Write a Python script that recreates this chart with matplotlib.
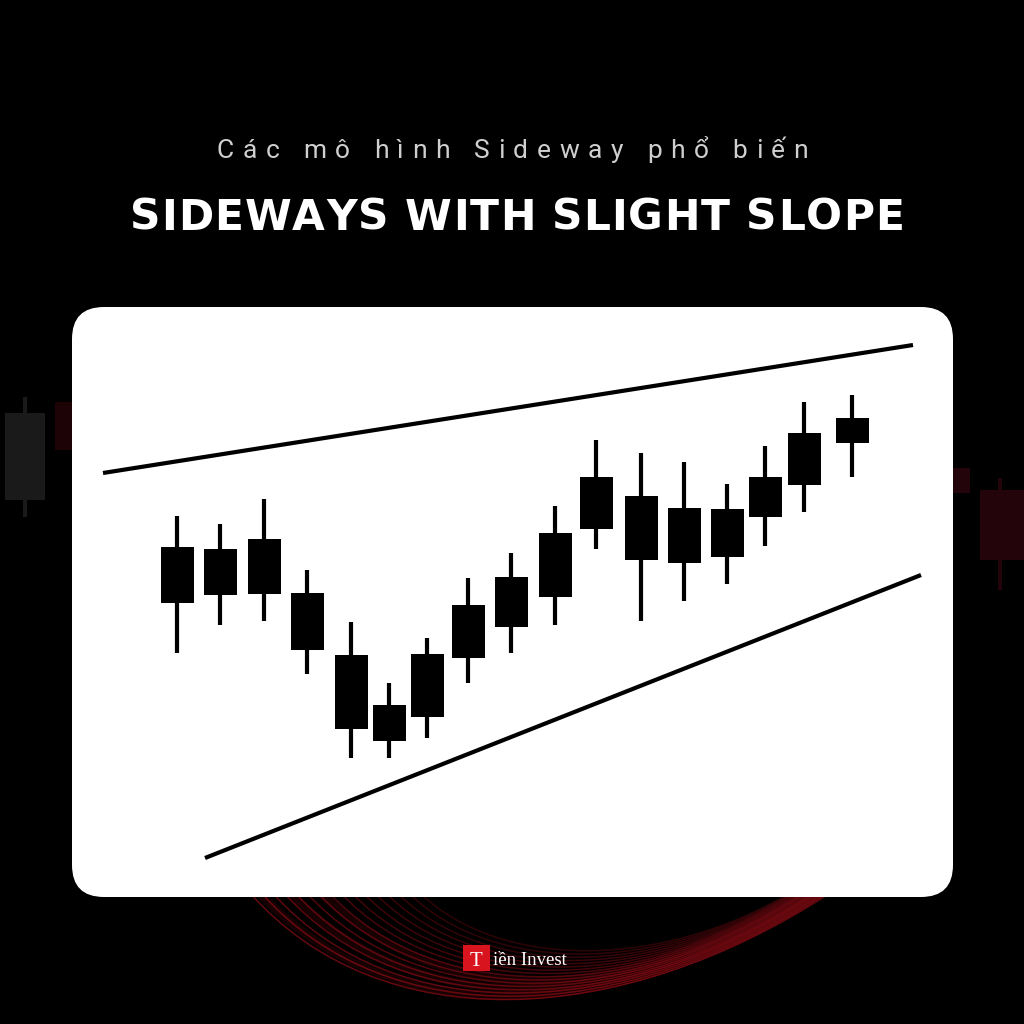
import matplotlib.pyplot as plt
import numpy as np
from matplotlib.patches import FancyBboxPatch, Rectangle, PathPatch
from matplotlib.path import Path

# candle data (x = bar position, prices)
bar_x = [177, 220, 264, 307, 351, 389, 427, 468, 511, 555, 596, 641, 684, 727, 765, 804, 852]
body_top = [45.3, 45.1, 46.1, 40.7, 34.5, 29.5, 34.6, 39.5, 42.3, 46.7, 52.3, 50.4, 49.2, 49.1, 52.3, 56.7, 58.2]
body_bot = [39.7, 40.5, 40.6, 35.0, 27.1, 25.9, 28.3, 34.2, 37.3, 40.3, 47.1, 44.0, 43.7, 44.3, 48.3, 51.5, 55.7]
wick_high = [48.4, 47.6, 50.1, 43.0, 37.8, 31.7, 36.2, 42.2, 44.7, 49.4, 56.0, 54.7, 53.8, 51.6, 55.4, 59.8, 60.5]
wick_low = [34.7, 37.5, 37.9, 32.6, 24.2, 24.2, 26.2, 31.7, 34.7, 37.5, 45.1, 37.9, 39.9, 41.6, 45.4, 48.8, 52.3]

# channel lines
upper_x = [103, 913]
upper_y = [52.7, 65.5]
lower_x = [205, 921]
lower_y = [14.2, 42.5]

title_small = "Các mô hình Sideway phổ biến"
title_big = "SIDEWAYS WITH SLIGHT SLOPE"

fig = plt.figure(figsize=(10.24, 10.24), dpi=100, facecolor='black')
bg = fig.add_axes([0, 0, 1, 1])
bg.set_xlim(0, 1024)
bg.set_ylim(1024, 0)
bg.axis('off')
bg.set_facecolor('black')

# faint decoration candles at the sides
bg.add_patch(Rectangle((23, 397), 4, 120, color='#1a1a1a', lw=0))
bg.add_patch(Rectangle((5, 413), 40, 87, color='#1a1a1a', lw=0))
bg.add_patch(Rectangle((55, 402), 20, 48, color='#1d0306', lw=0))
bg.add_patch(Rectangle((998, 478), 4, 112, color='#22040a', lw=0))
bg.add_patch(Rectangle((980, 490), 44, 70, color='#22040a', lw=0))
bg.add_patch(Rectangle((953, 468), 17, 25, color='#22040a', lw=0))

# red wave of lines under the card
codes = [Path.MOVETO, Path.CURVE4, Path.CURVE4, Path.CURVE4]
for i in range(16):
    t = i / 15
    verts = [(250 + 170 * t, 893), (380 + 120 * t, 1040 - 70 * t),
             (620 + 40 * t, 1030 - 60 * t), (830 - 40 * t, 893)]
    p = Path(verts, codes)
    bg.add_patch(PathPatch(p, fc='none', ec='#b3101b', lw=1.1, alpha=0.55 - 0.3 * t))
for i in range(3):
    t = i / 2
    verts = [(260 + 60 * t, 893), (390 + 60 * t, 1035 - 20 * t),
             (620, 1025 - 20 * t), (820 - 20 * t, 893)]
    bg.add_patch(PathPatch(Path(verts, codes), fc='none', ec='#c0101c', lw=6, alpha=0.12))

# white card
bg.add_patch(FancyBboxPatch((72, 307), 881, 590, boxstyle='round,pad=0,rounding_size=32',
                            fc='white', ec='none', zorder=3))


def spaced(ax, xc, y, s, target, **kw):
    # letter-spaced text stretched to a given pixel width
    r = fig.canvas.get_renderer()
    probe = ax.text(0, 0, '|', **kw)
    w0 = probe.get_window_extent(r).width
    step = []
    for ch in s:
        probe.set_text(ch + '|')
        step.append(probe.get_window_extent(r).width - w0)
    probe.remove()
    pos = np.concatenate([[0], np.cumsum(step)])
    natural = pos[-1]
    track = max(0.0, (target - natural) / (len(s) - 1))
    x0 = xc - (natural + track * (len(s) - 1)) / 2
    for i, ch in enumerate(s):
        if ch != ' ':
            ax.text(x0 + pos[i] + track * i, y, ch, ha='left', va='baseline', **kw)


spaced(bg, 512.5, 158, title_small, 591, fontsize=19, color='#cfcfcf',
       family='Roboto', weight='normal')
spaced(bg, 517, 230, title_big, 774, fontsize=30.5, color='white',
       family='DejaVu Sans', weight='bold')

# logo
bg.add_patch(Rectangle((463, 945), 27, 26, color='#d8141e', lw=0))
bg.text(476.5, 966, 'T', ha='center', va='baseline', color='white', fontsize=15,
        family='Liberation Serif')
bg.text(493, 965, 'iền Invest', ha='left', va='baseline', color='white', fontsize=13.5,
        family='Liberation Serif')

# chart
ax = fig.add_axes([72 / 1024, (1024 - 897) / 1024, 881 / 1024, 590 / 1024], zorder=5)
ax.set_xlim(72, 953)
ax.set_ylim((1000 - 897) / 10, (1000 - 307) / 10)
ax.axis('off')
ax.patch.set_alpha(0)

ax.vlines(bar_x, wick_low, wick_high, color='black', lw=3.0)
ax.bar(bar_x, np.array(body_top) - np.array(body_bot), bottom=body_bot, width=33, color='black')
ax.plot(upper_x, upper_y, color='black', lw=3.0, solid_capstyle='butt')
ax.plot(lower_x, lower_y, color='black', lw=3.0, solid_capstyle='butt')

fig.savefig('out.png', dpi=100, facecolor='black')
